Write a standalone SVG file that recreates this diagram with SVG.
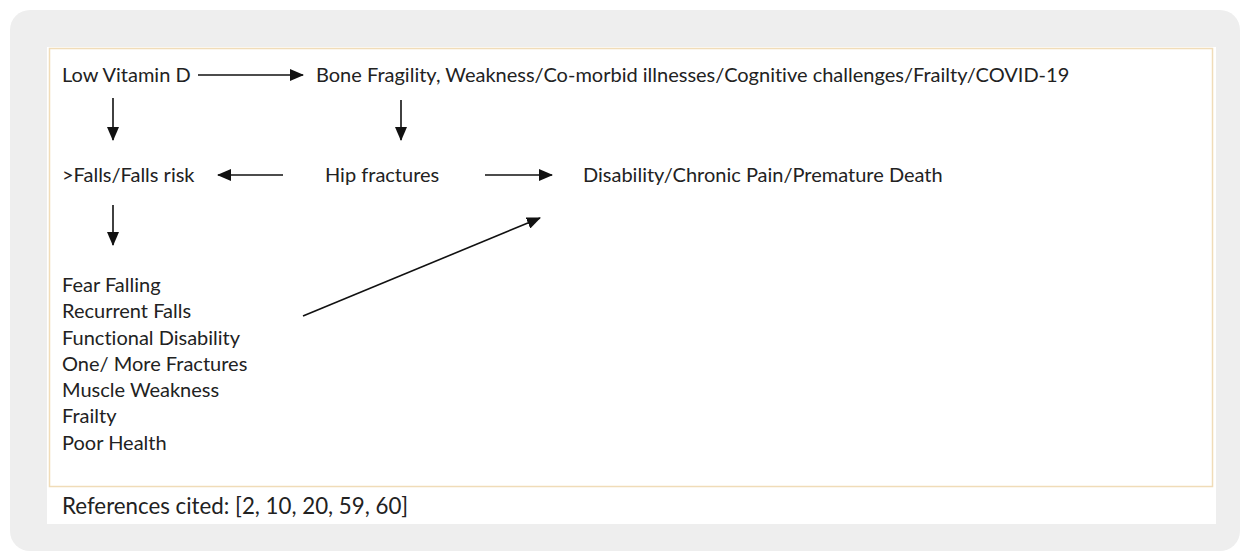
<svg xmlns="http://www.w3.org/2000/svg" width="1247" height="553" viewBox="0 0 1247 553">
<style>
.t{font-family:Lato,"Open Sans","Liberation Sans",sans-serif;font-size:20px;fill:#222;font-variant-ligatures:none}
.r{font-size:22.3px}
.c{stroke:#111;stroke-width:1.6;fill:none}
</style>
<defs>
<marker id="ahv" markerWidth="14" markerHeight="12" refX="13" refY="6" orient="auto" markerUnits="userSpaceOnUse">
<path d="M0,0 L14,6 L0,12 Z" fill="#111"/>
</marker>
</defs>
<rect x="10" y="10" width="1230" height="541" rx="20" fill="#eeeeee"/>
<rect x="47" y="47" width="1169" height="477" fill="#ffffff"/>
<rect x="49.5" y="48.5" width="1163" height="438" fill="none" stroke="#f0dcb8" stroke-width="1.5"/>
<g id="connectors">
<line class="c" x1="198" y1="75" x2="303" y2="75" marker-end="url(#ahv)"/>
<line class="c" x1="113" y1="98" x2="113" y2="140" marker-end="url(#ahv)"/>
<line class="c" x1="401" y1="100" x2="401" y2="140" marker-end="url(#ahv)"/>
<line class="c" x1="283" y1="175" x2="218" y2="175" marker-end="url(#ahv)"/>
<line class="c" x1="485" y1="175" x2="552" y2="175" marker-end="url(#ahv)"/>
<line class="c" x1="113" y1="205" x2="113" y2="245" marker-end="url(#ahv)"/>
<line class="c" x1="303" y1="316" x2="540" y2="218" marker-end="url(#ahv)"/>
</g>
<g id="n-lowvitd"><text class="t" x="62" y="82">Low Vitamin D</text></g>
<g id="n-bone"><text class="t" x="316" y="82">Bone Fragility, Weakness/Co-morbid illnesses/Cognitive challenges/Frailty/COVID-19</text></g>
<g id="n-falls"><text class="t" x="62" y="182">&gt;Falls/Falls risk</text></g>
<g id="n-hip"><text class="t" x="325" y="182">Hip fractures</text></g>
<g id="n-disab"><text class="t" x="583" y="182">Disability/Chronic Pain/Premature Death</text></g>
<g id="n-list">
<text class="t" x="62" y="292">Fear Falling</text>
<text class="t" x="62" y="318">Recurrent Falls</text>
<text class="t" x="62" y="345">Functional Disability</text>
<text class="t" x="62" y="371">One/ More Fractures</text>
<text class="t" x="62" y="397">Muscle Weakness</text>
<text class="t" x="62" y="423">Frailty</text>
<text class="t" x="62" y="450">Poor Health</text>
</g>
<g id="refs"><text class="t r" x="62" y="514">References cited: [2, 10, 20, 59, 60]</text></g>
</svg>
